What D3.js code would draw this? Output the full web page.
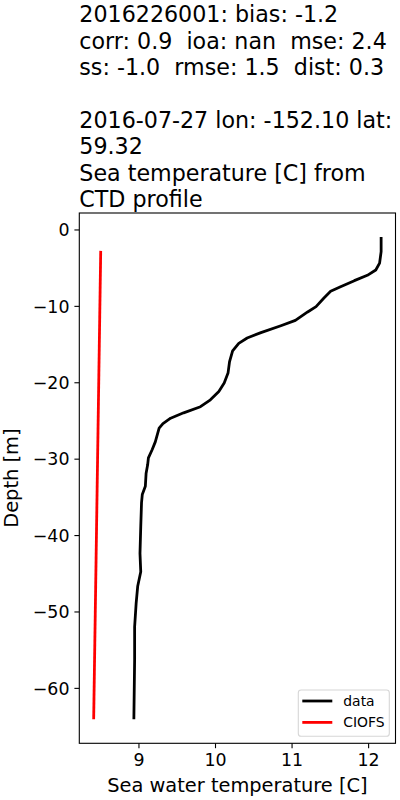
<!DOCTYPE html>
<html lang="en">
<head>
  <meta charset="UTF-8" />
  <title>CTD profile</title>
  <script src="https://d3js.org/d3.v7.min.js"></script>
  <style>
    body { margin: 0; background: white; }
    svg { display: block; font-family: 'DejaVu Sans', sans-serif; }
    .title { white-space: pre; }
  </style>
</head>
<body>
  <div id="chart"></div>
  <script>
    // --- Title lines ---
    const titleLines = [
      "2016226001: bias: -1.2",
      "corr: 0.9  ioa: nan  mse: 2.4",
      "ss: -1.0  rmse: 1.5  dist: 0.3",
      "",
      "2016-07-27 lon: -152.10 lat:",
      "59.32",
      "Sea temperature [C] from",
      "CTD profile"
    ];

    const ctdDepth = [-1.0, -2.9, -4.4, -5.3, -6.0, -6.7, -7.5, -8.1, -9.0, -10.1,
                      -10.8, -11.9, -12.6, -13.5, -14.2, -14.9, -15.9, -17.3, -18.8, -20.1,
                      -21.2, -22.3, -23.2, -24.0, -24.7, -25.4, -26.0, -27.8, -28.8, -29.9,
                      -30.8, -31.9, -33.6, -34.7, -35.8, -38.9, -42.4, -44.8, -46.7, -48.9,
                      -52.0, -56.3, -64.1];
    const ctdTemp  = [12.17, 12.17, 12.15, 12.10, 11.99, 11.82, 11.64, 11.51, 11.42, 11.32,
                      11.21, 11.05, 10.86, 10.60, 10.42, 10.31, 10.23, 10.19, 10.17, 10.12,
                      10.05, 9.94, 9.81, 9.59, 9.42, 9.32, 9.27, 9.22, 9.18, 9.13,
                      9.12, 9.10, 9.09, 9.05, 9.04, 9.03, 9.02, 9.03, 8.99, 8.97,
                      8.95, 8.95, 8.94];

    // --- Model profile (CIOFS) ---
    const modelDepth = [-2.8, -64.1];
    const modelTemp  = [8.507, 8.415];

    // --- Ticks ---
    const tempTicks  = [9, 10, 11, 12];
    const depthTicks = [0, -10, -20, -30, -40, -50, -60];

    const legendNames  = ["data", "CIOFS"];
    const legendColors = ["black", "red"];

    // --- Plot area ---
    const W = 400, H = 800;
    const plotL = 79.3, plotR = 395.5, plotT = 213, plotB = 743.3;

    const svg = d3.select("#chart").append("svg")
      .attr("width", W).attr("height", H);

    // --- Matplotlib-like 5% padding on data extents ---
    function padded(vals) {
      const [a, b] = d3.extent(vals);
      const m = (b - a) * 0.05;
      return [a - m, b + m];
    }
    const x = d3.scaleLinear().domain(padded(ctdTemp.concat(modelTemp))).range([plotL, plotR]);
    const y = d3.scaleLinear().domain(padded(ctdDepth.concat(modelDepth))).range([plotB, plotT]);

    // --- Title ---
    const title = svg.append("text")
      .attr("class", "title")
      .attr("x", plotL).attr("y", 22.3)
      .style("font-size", "22.2px").attr("fill", "black");
    titleLines.forEach((t, i) => {
      title.append("tspan").attr("x", plotL).attr("y", 22.3 + i * 26.4).text(t);
    });

    // --- Lines ---
    const line = d3.line().x(d => x(d[0])).y(d => y(d[1]));

    svg.append("path")
      .datum(ctdTemp.map((t, i) => [t, ctdDepth[i]]))
      .attr("d", line)
      .attr("fill", "none").attr("stroke", "black")
      .attr("stroke-width", 2.78).attr("stroke-linejoin", "round");

    svg.append("path")
      .datum(modelTemp.map((t, i) => [t, modelDepth[i]]))
      .attr("d", line)
      .attr("fill", "none").attr("stroke", "red")
      .attr("stroke-width", 2.78);

    // --- Axes ---
    const xAxis = svg.append("g")
      .attr("transform", `translate(0,${plotB})`)
      .call(d3.axisBottom(x).tickValues(tempTicks).tickFormat(d3.format("d"))
              .tickSizeInner(4.9).tickSizeOuter(0).tickPadding(4.9));
    const yAxis = svg.append("g")
      .attr("transform", `translate(${plotL},0)`)
      .call(d3.axisLeft(y).tickValues(depthTicks).tickFormat(d3.format("d"))
              .tickSizeInner(4.9).tickSizeOuter(0).tickPadding(4.9));

    [xAxis, yAxis].forEach(a => {
      a.select(".domain").remove();
      a.selectAll("line").attr("stroke", "black").attr("stroke-width", 1.1);
      a.selectAll("text").attr("fill", "black")
        .style("font-size", "17.4px").style("font-family", "'DejaVu Sans', sans-serif");
    });
    xAxis.selectAll("text").attr("dy", "0.74em");
    yAxis.selectAll("text").attr("dy", "0.36em");

    // --- Frame ---
    svg.append("rect")
      .attr("x", plotL).attr("y", plotT)
      .attr("width", plotR - plotL).attr("height", plotB - plotT)
      .attr("fill", "none").attr("stroke", "black").attr("stroke-width", 1.1);

    // --- Axis labels ---
    svg.append("text")
      .attr("x", (plotL + plotR) / 2).attr("y", 791.5)
      .attr("text-anchor", "middle")
      .style("font-size", "19.4px")
      .text("Sea water temperature [C]");

    svg.append("text")
      .attr("transform", `translate(17.8,${(plotT + plotB) / 2}) rotate(-90)`)
      .attr("text-anchor", "middle")
      .style("font-size", "19.4px")
      .text("Depth [m]");

    // --- Legend ---
    const legend = svg.append("g");
    legend.append("rect")
      .attr("x", 298.3).attr("y", 690)
      .attr("width", 91).attr("height", 46.3)
      .attr("rx", 2.8)
      .attr("fill", "white").attr("fill-opacity", 0.8)
      .attr("stroke", "#d6d6d6").attr("stroke-width", 1.1);

    legendNames.forEach((name, i) => {
      const cy = 701 + i * 21.4;
      legend.append("line")
        .attr("x1", 302.3).attr("x2", 332.3)
        .attr("y1", cy).attr("y2", cy)
        .attr("stroke", legendColors[i]).attr("stroke-width", 2.78);
      legend.append("text")
        .attr("x", 343.3).attr("y", cy + 4.8)
        .style("font-size", "13.9px")
        .text(name);
    });
  </script>
</body>
</html>
